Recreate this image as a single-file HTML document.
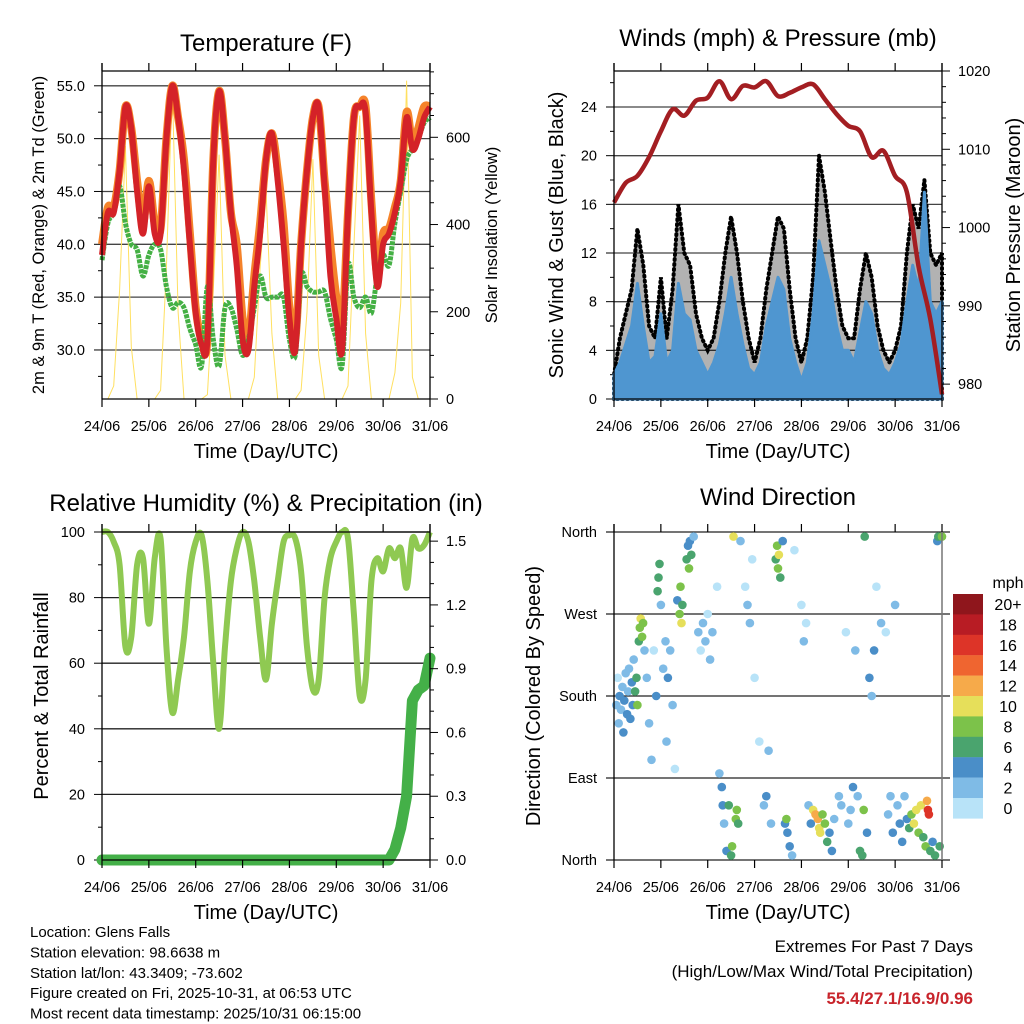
<!DOCTYPE html>
<html><head><meta charset="utf-8"><style>
html,body{margin:0;padding:0;background:#fff}
svg{display:block;font-family:"Liberation Sans",sans-serif}
</style></head><body>
<svg id="s" width="1024" height="1024" viewBox="0 0 1024 1024" xmlns="http://www.w3.org/2000/svg"></svg>
<script>
// ---------- data (3-hourly, 24/06 00UTC .. 31/06 00UTC) ----------
const dayLabels = ["24/06","25/06","26/06","27/06","28/06","29/06","30/06","31/06"];
const tempRed = [39,43,43,47,53,51,45,41, 45.5,41,41,50,55,52,47,40, 33.5,30.5,31,48,54.5,50,43,38, 31,30,36,41,48,50.5,46,40, 33,30,40,47,52,53,45.5,37, 33,30,43,52,53,52.5,43,36, 40,41,43,46,52,49,50,52, 53];
const tempOrange = [40,43.5,43.5,47,53,51,46,42, 46,42,41.5,50,55,52,48,41, 34,31,31,48,54.5,50,43,40, 33,31,37,42,48,50.5,47,42, 34,31,40,47,52,53,46,40, 35,32,43,52,53,53,44,37, 41,41.5,43.5,46,52.5,49.5,51,53, 53];
const dewGreen = [38.5,42,43,45.5,42,40,39.5,37, 39,40,39.5,36,34,34.5,34,32, 30.5,28.5,36,31,28.5,34,34,32, 29.5,31,34,37,35,35,35,35, 31,29.5,37,36,35.5,35.5,35.5,33, 31,28.5,38,35,34,35,33.5,37, 39,38,42,45,48,49,50,51.5, 52];
const solar = [0,0,30,250,580,120,0,0, 0,0,20,300,720,200,0,0, 0,0,10,250,560,100,0,0, 0,0,50,300,480,150,0,0, 0,0,20,200,550,100,0,0, 0,0,30,350,650,150,0,0, 0,0,60,220,730,50,0,0, 0];
const windGust = [2,5,7,9,14,11,6,5, 10,5,9,16,12,11,7,5, 4,5,8,12,15,12,8,5, 3,5,9,12,15,14,9,5, 3,5,10,20,17,13,9,6, 5,5,9,12,10,6,4,3, 4,6,12,16,14,18,12,11, 12];
const windHigh = [2,3,4.5,6,9.5,6,3,3.5, 7,3,4,9.5,7,6.5,4,3, 2,3,4.5,7,10,7,4.5,2.5, 2,3,6,8,10,9,5,3, 1.5,3,7,13,11,9,6,4, 4,3,5.5,8,7,4,2.5,2, 3,4.5,8,11,9,17,8,7, 8];
// 6-hourly pressure
const pressure = [1003.2,1005.7,1006.6,1009,1012.3,1015.1,1014.3,1016.2,1016.6,1018.7,1016.4,1018.1,1017.9,1018.7,1016.8,1017.2,1017.9,1018.3,1016.4,1014.5,1013,1012.3,1009,1009.8,1006.6,1004.5,995,988.3,978.7];
const rh = [100,100,97,90,65,68,90,92, 72,92,98,65,45,55,68,88, 97,99,85,60,40,65,85,95, 100,97,85,68,55,72,85,97, 99,98,88,65,52,55,80,92, 97,100,98,75,50,55,85,92, 88,95,92,95,83,98,95,96, 100];
const rain = [0,0,0,0,0,0,0,0, 0,0,0,0,0,0,0,0, 0,0,0,0,0,0,0,0, 0,0,0,0,0,0,0,0, 0,0,0,0,0,0,0,0, 0,0,0,0,0,0,0,0, 0,0,0.05,0.15,0.3,0.75,0.8,0.82, 0.95];
const dirTime = [0.05,0.08,0.1,0.12,0.15,0.18,0.2,0.22,0.25,0.28,0.3,0.32,0.35,0.38,0.4,0.42,0.45,0.48,0.5,0.53,0.55,0.57,0.6,0.62,0.65,0.7,0.75,0.8,0.85,0.9,0.93,0.95,0.97,1.0,1.05,1.1,1.12,1.15,1.2,1.25,1.3,1.35,1.4,1.42,1.44,1.46,1.55,1.58,1.6,1.62,1.65,1.7,1.8,1.85,1.9,1.95,2.0,2.05,2.1,2.2,2.25,2.3,2.32,2.35,2.4,2.45,2.5,2.52,2.55,2.6,2.62,2.65,2.7,2.8,2.85,2.9,2.95,3.0,3.1,3.2,3.25,3.3,3.35,3.45,3.48,3.5,3.52,3.55,3.6,3.65,3.68,3.7,3.75,3.8,3.85,4.0,4.05,4.1,4.15,4.2,4.25,4.3,4.35,4.38,4.4,4.45,4.5,4.55,4.6,4.65,4.7,4.8,4.85,4.95,5.0,5.05,5.1,5.15,5.2,5.25,5.3,5.33,5.35,5.4,5.45,5.5,5.55,5.6,5.7,5.8,5.85,5.9,5.95,6.0,6.05,6.1,6.15,6.2,6.25,6.3,6.35,6.4,6.45,6.5,6.55,6.6,6.65,6.68,6.7,6.72,6.75,6.8,6.85,6.9,6.92,6.95,7.0];
const dirDeg = [170,200,150,180,165,190,140,175,205,160,185,210,155,195,170,220,185,200,170,240,255,265,245,260,230,200,150,110,230,180,295,310,325,280,210,240,130,200,230,170,100,285,270,300,260,280,330,345,320,350,335,355,250,230,260,240,270,220,250,300,95,80,60,40,10,60,5,15,355,45,55,40,350,300,280,260,330,200,130,60,70,120,40,330,345,320,335,310,350,40,45,30,15,5,340,280,240,260,60,40,55,50,45,35,30,50,40,20,30,10,45,70,60,250,40,55,80,230,70,10,5,55,355,30,200,180,230,300,260,250,50,70,30,280,60,40,20,70,45,35,50,40,55,30,60,25,15,65,55,50,10,20,5,350,355,15,355];
const dirSpeed = [2,1,3,4,3,2,4,5,3,4,3,2,5,4,5,3,6,7,8,7,8,11,9,8,3,2,3,2,1,4,7,6,6,2,3,2,2,4,2,3,1,5,8,8,10,7,6,5,8,4,7,2,2,1,2,3,1,2,2,1,2,4,4,3,5,6,7,8,10,8,9,7,3,1,2,2,1,1,1,3,4,2,2,7,9,8,10,7,5,4,8,5,4,3,1,1,2,1,3,5,10,12,13,11,10,9,8,7,4,4,3,2,3,1,3,2,4,2,3,6,7,8,6,4,4,3,5,1,2,1,2,3,4,2,3,4,5,3,5,7,9,10,10,8,11,7,8,13,16,17,6,5,7,4,7,6,8];
const speedLabels = ["0","2","4","6","8","10","12","14","16","18","20+"];
const speedColors = ["#b8e3f8","#7fbbe6","#4a8ec8","#4aa46e","#7cc24a","#e6df5a","#f6aa4a","#ef6530","#dd3428","#b81c24","#8f161c"];

// ---------- helpers ----------
const S = document.getElementById('s');
const NS = "http://www.w3.org/2000/svg";
function mk(tag, attrs, parent){const e=document.createElementNS(NS,tag);for(const k in attrs)e.setAttribute(k,attrs[k]);(parent||S).appendChild(e);return e;}
function txt(x,y,str,size,anchor,parent,extra){const e=mk('text',Object.assign({x:x,y:y,'font-size':size,'text-anchor':anchor||'start',fill:'#000'},extra||{}),parent);e.textContent=str;return e;}
const PW=328, PH=328;
function xS(L){return t=>L+t/7*PW;}
function yS(T,lo,hi){return v=>T+PH-(v-lo)/(hi-lo)*PH;}
function pathFrom(arr,x,y,n){let step=7/(n-1);return arr.map((v,i)=>(i?'L':'M')+x(i*step).toFixed(1)+','+y(v).toFixed(1)).join(' ');}
function smoothFrom(arr,x,y){
  const n=arr.length, st=7/(n-1);
  const P=arr.map((v,i)=>[x(i*st),y(v)]);
  let d='M'+P[0][0].toFixed(1)+','+P[0][1].toFixed(1);
  for(let i=0;i<n-1;i++){
    const p0=P[Math.max(0,i-1)],p1=P[i],p2=P[i+1],p3=P[Math.min(n-1,i+2)];
    const c1=[p1[0]+(p2[0]-p0[0])/6,p1[1]+(p2[1]-p0[1])/6];
    const c2=[p2[0]-(p3[0]-p1[0])/6,p2[1]-(p3[1]-p1[1])/6];
    d+=' C'+c1[0].toFixed(1)+','+c1[1].toFixed(1)+' '+c2[0].toFixed(1)+','+c2[1].toFixed(1)+' '+p2[0].toFixed(1)+','+p2[1].toFixed(1);
  }
  return d;
}

function xAxis(g,L,T,topTicks){
  const x=xS(L);
  dayLabels.forEach((d,i)=>{
    mk('line',{x1:x(i),x2:x(i),y1:T+PH,y2:T+PH+8,stroke:'#000','stroke-width':1.2},g);
    if(topTicks) mk('line',{x1:x(i),x2:x(i),y1:T-8,y2:T,stroke:'#000','stroke-width':1.2},g);
    const t=txt(x(i),T+PH+32,d,14.5,'middle',g);
    
    
  });
  const xl=txt(L+PW/2,T+PH+59,'Time (Day/UTC)',20,'middle',g);
  
  
}
function yAxisLeft(g,L,T,lo,hi,major,minor,fmt,grid,gridColor){
  const y=yS(T,lo,hi);
  for(let v=Math.ceil(lo/minor)*minor; v<=hi+1e-9; v+=minor){
    const isMaj=Math.abs(v/major-Math.round(v/major))<1e-6;
    mk('line',{x1:L-(isMaj?8:4),x2:L,y1:y(v),y2:y(v),stroke:'#000','stroke-width':1},g);
    if(isMaj){
      if(grid) mk('line',{x1:L,x2:L+PW,y1:y(v),y2:y(v),stroke:gridColor||'#333','stroke-width':1.3},g);
      const t=txt(L-17,y(v)+5,fmt(v),14.5,'end',g);
      
      
    }
  }
}
function yAxisRight(g,L,T,lo,hi,major,minor,fmt){
  const y=yS(T,lo,hi), R=L+PW;
  for(let v=Math.ceil(lo/minor-1e-9)*minor; v<=hi+1e-9; v+=minor){
    const isMaj=Math.abs(v/major-Math.round(v/major))<1e-6;
    mk('line',{x1:R,x2:R+(isMaj?8:4),y1:y(v),y2:y(v),stroke:'#000','stroke-width':1},g);
    if(isMaj){
      const t=txt(R+16,y(v)+5,fmt(v),14.5,'start',g);
      
      
    }
  }
}
function vLabel(x,y,str,size,g,name){const t=txt(0,0,str,size,'middle',g,{transform:`translate(${x},${y}) rotate(-90)`});return t;}
function title(x,y,str,g){const t=txt(x,y,str,24,'middle',g);}
function frame(g,L,T,rightColor){
  mk('line',{x1:L,x2:L,y1:T-8,y2:T+PH,stroke:'#000','stroke-width':1.3},g);
  mk('line',{x1:L+PW,x2:L+PW,y1:T-8,y2:T+PH,stroke:rightColor||'#000','stroke-width':1.3},g);
  mk('line',{x1:L,x2:L+PW,y1:T,y2:T,stroke:'#000','stroke-width':1.3},g);
  mk('line',{x1:L,x2:L+PW,y1:T+PH,y2:T+PH,stroke:'#000','stroke-width':1.3},g);
}

// ---------- Panel 1: Temperature ----------
(function(){
  const L=102,T=71,g=mk('g',{});
  
  
  const x=xS(L), y=yS(T,25.36,56.4), ys=yS(T,0,752);
  yAxisLeft(g,L,T,25.36,56.4,5,2.5,v=>v.toFixed(1),true,'#444');
  const sl=mk('path',{d:pathFrom(solar,x,ys,solar.length),fill:'none',stroke:'#ffe060','stroke-width':1},g);
  
  
  const o=mk('path',{d:smoothFrom(tempOrange,x,y),fill:'none',stroke:'#f5832a','stroke-width':8,'stroke-linejoin':'round'},g);
  
  
  const gr=mk('path',{d:smoothFrom(dewGreen,x,y),fill:'none',stroke:'#44b044','stroke-width':5,'stroke-linejoin':'round','stroke-dasharray':'4 1'},g);
  
  
  const r=mk('path',{d:smoothFrom(tempRed,x,y),fill:'none',stroke:'#d42228','stroke-width':6,'stroke-linejoin':'round'},g);
  
  
  frame(g,L,T);
  yAxisRight(g,L,T,0,752,200,50,v=>String(v));
  xAxis(g,L,T,true);
  title(266,51,'Temperature (F)',g);
  vLabel(44,235,'2m & 9m T (Red, Orange) & 2m Td (Green)',16.5,g,'y-axis-title');
  vLabel(497,235,'Solar Insolation (Yellow)',16.5,g,'right-axis-title');
})();

// ---------- Panel 2: Winds & Pressure ----------
(function(){
  const L=614,T=71,g=mk('g',{});
  
  
  const x=xS(L), y=yS(T,0,26.96), yp=yS(T,978.1,1020);
  yAxisLeft(g,L,T,0,26.96,4,2,v=>String(v),true,'#444');
  const n=windGust.length, st=7/(n-1);
  const gust='M'+x(0)+','+y(0)+' '+windGust.map((v,i)=>'L'+x(i*st).toFixed(1)+','+y(v).toFixed(1)).join(' ')+' L'+x(7)+','+y(0)+'Z';
  const ga=mk('path',{d:gust,fill:'#000','fill-opacity':0.3,stroke:'#000','stroke-width':4,'stroke-dasharray':'1 4','stroke-linecap':'round'},g);
  
  
  const band='M'+x(0)+','+y(0)+' '+windHigh.map((v,i)=>'L'+x(i*st).toFixed(1)+','+y(v).toFixed(1)).join(' ')+' L'+x(7)+','+y(0)+'Z';
  const ba=mk('path',{d:band,fill:'#4f96d0',stroke:'#4f96d0','stroke-width':3,'stroke-linejoin':'round'},g);
  
  
  const p=mk('path',{d:smoothFrom(pressure,x,yp),fill:'none',stroke:'#a31e22','stroke-width':4.5,'stroke-linejoin':'round'},g);
  
  
  frame(g,L,T);
  yAxisRight(g,L,T,978.1,1020,10,2,v=>String(Math.round(v)));
  xAxis(g,L,T,true);
  title(778,46,'Winds (mph) & Pressure (mb)',g);
  vLabel(563,235,'Sonic Wind & Gust (Blue, Black)',20,g,'y-axis-title');
  vLabel(1020,235,'Station Pressure (Maroon)',20,g,'right-axis-title');
})();

// ---------- Panel 3: RH & Precip ----------
(function(){
  const L=102,T=532,g=mk('g',{});
  
  
  const x=xS(L), y=yS(T,0,100), yr=yS(T,0,1.543);
  yAxisLeft(g,L,T,0,100,20,10,v=>String(v),true,'#222');
  const h=mk('path',{d:smoothFrom(rh,x,y),fill:'none',stroke:'#8fc952','stroke-width':6,'stroke-linejoin':'round'},g);
  
  
  const r=mk('path',{d:pathFrom(rain,x,yr,rain.length),fill:'none',stroke:'#44b048','stroke-width':11,'stroke-linejoin':'round','stroke-linecap':'round'},g);
  
  
  frame(g,L,T);
  yAxisRight(g,L,T,0,1.543,0.3,0.1,v=>v.toFixed(1));
  xAxis(g,L,T,true);
  title(266,511,'Relative Humidity (%) & Precipitation (in)',g);
  vLabel(48,696,'Percent & Total Rainfall',20,g,'y-axis-title');
})();

// ---------- Panel 4: Wind direction ----------
(function(){
  const L=614,T=532,g=mk('g',{});
  
  
  const x=xS(L), y=yS(T,0,360);
  ["North","East","South","West","North"].forEach((d,i)=>{
    const v=i*90;
    mk('line',{x1:L-8,x2:L+PW+8,y1:y(v),y2:y(v),stroke:'#222','stroke-width':1.3},g);
    const t=txt(L-17,y(v)+5,d,14.5,'end',g);
    
    
  });
  dirTime.forEach((t,i)=>{
    const c=mk('circle',{cx:x(t).toFixed(1),cy:y(dirDeg[i]).toFixed(1),r:4.3,fill:speedColors[Math.min(10,Math.floor(dirSpeed[i]/2))]},g);
    
    
  });
  mk('line',{x1:L,x2:L,y1:T-8,y2:T+PH,stroke:'#000','stroke-width':1.3},g);
  mk('line',{x1:L+PW,x2:L+PW,y1:T,y2:T+PH,stroke:'#777','stroke-width':1.5},g);
  xAxis(g,L,T,true);
  title(778,505,'Wind Direction',g);
  vLabel(540,696,'Direction (Colored By Speed)',20,g,'y-axis-title');
  const lg=mk('g',{},g);
  
  
  const mt=txt(1008,588,'mph',16,'middle',lg);
  
  
  for(let i=0;i<11;i++){
    const k=10-i, yy=594+i*20.4;
    const r=mk('rect',{x:953,y:yy,width:30,height:20.6,fill:speedColors[k]},lg);
    
    
    const t=txt(1008,yy+16,speedLabels[k],16,'middle',lg);
    
    
  }
})();

// ---------- footer ----------
(function(){
  const g=mk('g',{});
  
  
  ["Location: Glens Falls","Station elevation: 98.6638 m","Station lat/lon: 43.3409; -73.602","Figure created on Fri, 2025-10-31, at 06:53 UTC","Most recent data timestamp: 2025/10/31 06:15:00"].forEach((s,i)=>{
    const t=txt(30,937+i*20.4,s,15,'start',g);
    
    
  });
  const e=mk('g',{});
  
  
  let t=txt(973,952,'Extremes For Past 7 Days',17,'end',e);
  
  
  t=txt(973,977,'(High/Low/Max Wind/Total Precipitation)',17,'end',e);
  
  
  t=txt(973,1004,'55.4/27.1/16.9/0.96',17,'end',e,{fill:'#c8242b','font-weight':'bold'});
  
  
})();
</script>
</body></html>
